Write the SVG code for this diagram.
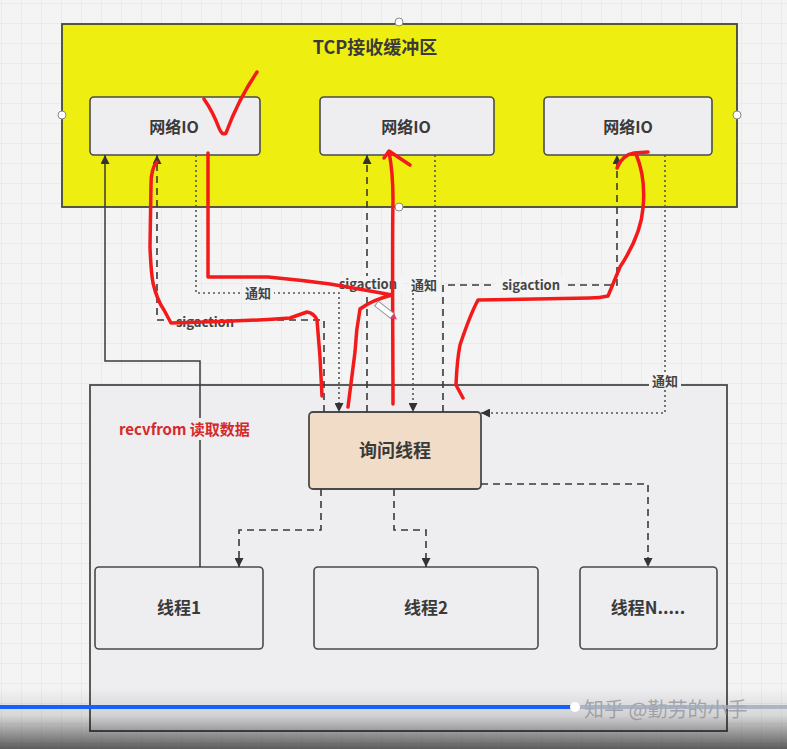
<svg xmlns="http://www.w3.org/2000/svg" width="787" height="749" viewBox="0 0 787 749">
<defs>
  <pattern id="grid" width="20" height="20" patternUnits="userSpaceOnUse" x="2" y="4">
    <rect width="20" height="20" fill="#f4f4f5"/>
    <path d="M20,0 V20 M0,20 H20" fill="none" stroke="#e3e3e5" stroke-width="1"/>
  </pattern>
  <linearGradient id="shade" x1="0" y1="0" x2="0" y2="1">
    <stop offset="0" stop-color="#000" stop-opacity="0"/>
    <stop offset="0.45" stop-color="#000" stop-opacity="0.12"/>
    <stop offset="1" stop-color="#000" stop-opacity="0.62"/>
  </linearGradient>
  <marker id="arr" viewBox="0 0 10 10" refX="10" refY="5" markerWidth="9" markerHeight="9" markerUnits="userSpaceOnUse" orient="auto">
    <path d="M0,0 L10,5 L0,10 Z" fill="#333"/>
  </marker>
  <style>
    .box{fill:#eeedf0;stroke:#4a4a4a;stroke-width:1.6}
    .t{font-family:"Noto Sans CJK SC","Noto Sans",sans-serif;font-weight:bold;fill:#3a3a3a;text-anchor:middle}
    .lbl{font-family:"Noto Sans CJK SC","Noto Sans",sans-serif;font-weight:bold;fill:#444;font-size:13px;text-anchor:middle}
    .solid{fill:none;stroke:#3a3a3a;stroke-width:1.5}
    .dash{fill:none;stroke:#3a3a3a;stroke-width:1.6;stroke-dasharray:7,5}
    .dot{fill:none;stroke:#555;stroke-width:1.6;stroke-dasharray:2,3}
    .red{fill:none;stroke:#f21a1a;stroke-width:3.5;stroke-linecap:round;stroke-linejoin:round}
    .bgl{fill:#f4f4f5}
    .pt{fill:#fff;stroke:#888;stroke-width:1}
  </style>
</defs>

<rect width="787" height="749" fill="url(#grid)"/>

<g id="tcp-buffer">
  <rect x="62" y="24" width="675" height="183" fill="#eeee11" stroke="#444" stroke-width="1.8"/>
  <text class="t" x="375" y="54" font-size="18">TCP接收缓冲区</text>
</g>

<g id="io1">
  <rect class="box" x="90" y="97" width="170" height="58" rx="4"/>
  <text class="t" x="174" y="133" font-size="16">网络IO</text>
</g>
<g id="io2">
  <rect class="box" x="320" y="97" width="174" height="58" rx="4"/>
  <text class="t" x="406" y="133" font-size="16">网络IO</text>
</g>
<g id="io3">
  <rect class="box" x="544" y="97" width="168" height="58" rx="4"/>
  <text class="t" x="628" y="133" font-size="16">网络IO</text>
</g>

<g id="process">
  <rect x="90" y="385" width="637" height="346" fill="#eeedf0" stroke="#4a4a4a" stroke-width="1.8"/>
</g>

<g id="poll-thread">
  <rect x="309" y="412" width="172" height="77" rx="4" fill="#f1dcc7" stroke="#4a4a4a" stroke-width="1.8"/>
  <text class="t" x="395" y="457" font-size="18">询问线程</text>
</g>

<g id="thread1">
  <rect class="box" x="95" y="567" width="168" height="82" rx="4"/>
  <text class="t" x="179" y="614" font-size="17">线程1</text>
</g>
<g id="thread2">
  <rect class="box" x="314" y="567" width="224" height="82" rx="4"/>
  <text class="t" x="426" y="614" font-size="17">线程2</text>
</g>
<g id="threadN">
  <rect class="box" x="580" y="567" width="137" height="82" rx="4"/>
  <text class="t" x="648" y="614" font-size="17">线程N.....</text>
</g>

<g id="connectors">
  <path class="solid" d="M200,567 V361 H105 V155" marker-end="url(#arr)"/>
  <path class="dash" d="M324,412 V320 H157 V155" marker-end="url(#arr)"/>
  <path class="dot" d="M196,155 V293 H339 V412" marker-end="url(#arr)"/>
  <path class="dash" d="M367,412 V155" marker-end="url(#arr)"/>
  <path class="dot" d="M435,155 V285 H413 V412" marker-end="url(#arr)"/>
  <path class="dash" d="M443,412 V285 H617 V155" marker-end="url(#arr)"/>
  <path class="dot" d="M665,155 V413 H481" marker-end="url(#arr)"/>
  <path class="dash" d="M321,489 V530 H239 V567" marker-end="url(#arr)"/>
  <path class="dash" d="M394,489 V530 H426 V567" marker-end="url(#arr)"/>
  <path class="dash" d="M481,484 H648 V567" marker-end="url(#arr)"/>

  <rect class="bgl" x="243" y="285" width="31" height="15"/>
  <text class="lbl" x="258" y="298">通知</text>
  <rect class="bgl" x="170" y="314" width="70" height="15"/>
  <text class="lbl" x="205" y="327">sigaction</text>
  <rect class="bgl" x="334" y="276" width="69" height="15"/>
  <text class="lbl" x="368" y="289">sigaction</text>
  <rect class="bgl" x="409" y="277" width="31" height="15"/>
  <text class="lbl" x="424" y="290">通知</text>
  <rect class="bgl" x="496" y="277" width="70" height="15"/>
  <text class="lbl" x="531" y="290">sigaction</text>
  <rect class="bgl" x="649" y="373" width="32" height="15"/>
  <text class="lbl" x="665" y="386">通知</text>
  <rect x="116" y="418" width="164" height="22" fill="#eeedf0"/>
  <text x="119" y="435" font-family="'Noto Sans CJK SC','Noto Sans',sans-serif" font-weight="bold" font-size="15" fill="#d42a2a">recvfrom 读取数据</text>
</g>

<g id="connection-points">
  <circle class="pt" cx="399" cy="22" r="4"/>
  <circle class="pt" cx="62" cy="115" r="4"/>
  <circle class="pt" cx="737" cy="115" r="4"/>
  <circle class="pt" cx="399" cy="207" r="4"/>
</g>

<g id="annotations">
  <path class="red" d="M204,99 Q213,112 219,128 Q222,136 226,133 Q238,100 257,72"/>
  <path class="red" d="M208,153 V277 H268 Q300,280 330,284 Q365,290 392,295 Q372,300 360,309 Q356,330 355,352 L348,407"/>
  <path class="red" d="M393,404 C393,350 392,250 393,200 C393,178 391,162 389,152"/>
  <path class="red" d="M384,158 L389,151 L410,165"/>
  <path class="red" d="M157,162 Q151,168 151,185 L150,247 Q151,272 153,283 Q157,300 164,310 L171,323 Q230,322 290,318 L307,312 Q314,313 317,320 L320,357 L322,396"/>
  <path class="red" d="M617,168 Q622,155 634,153 L648,152"/>
  <path class="red" d="M636,154 Q646,178 643,208 Q641,235 620,267 L608,296 Q600,298 590,298 L478,300 Q470,315 460,345 Q457,360 456,385 L463,398"/>
  <g transform="translate(386,311) rotate(-52)">
    <rect x="-3" y="-12" width="6" height="20" fill="#fff" stroke="#999" stroke-width="1"/>
    <path d="M-3,8 L3,8 L0,14 Z" fill="#e23b6a"/>
  </g>
</g>

<g id="video-overlay">
  <rect x="0" y="688" width="787" height="61" fill="url(#shade)"/>
  <text x="584" y="717" font-family="'Noto Sans CJK SC',sans-serif" font-size="20" fill="#8a8a90" fill-opacity="0.7">知乎 @勤劳的小手</text>
  <rect x="575" y="705" width="212" height="4" fill="#9eaabb" fill-opacity="0.8"/>
  <rect x="0" y="705" width="575" height="4" fill="#1660ff"/>
  <circle cx="575" cy="707" r="5" fill="#fff"/>
</g>
</svg>
